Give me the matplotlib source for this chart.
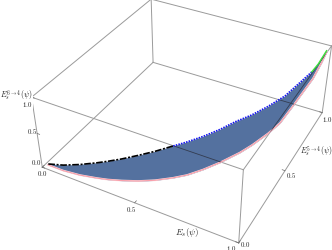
"""Shaded region between two curves inside a 3D box."""

import matplotlib

matplotlib.use("Agg")
import matplotlib.pyplot as plt
import numpy as np
from matplotlib.path import Path
from matplotlib.transforms import IdentityTransform
from mpl_toolkits.mplot3d import proj3d
from mpl_toolkits.mplot3d.art3d import Poly3DCollection

plt.rcParams["mathtext.fontset"] = "cm"

# Upper edge of the region (black, then blue, then green)
upper_x = [0.018, 0.090, 0.164, 0.234, 0.280, 0.335, 0.398, 0.462, 0.529, 0.578,
           0.636, 0.693, 0.741, 0.798, 0.850, 0.901, 0.942, 0.967, 0.979, 0.988]
upper_y = [0.023, 0.042, 0.071, 0.104, 0.128, 0.159, 0.199, 0.242, 0.293, 0.330,
           0.379, 0.435, 0.491, 0.547, 0.610, 0.684, 0.780, 0.839, 0.888, 0.968]
# Lower edge of the region (pink)
lower_x = [0.019, 0.104, 0.193, 0.275, 0.328, 0.390, 0.462, 0.533, 0.604, 0.656, 0.711,
           0.767, 0.829, 0.864, 0.907, 0.936, 0.956, 0.971, 0.986, 0.991, 0.991]
lower_y = [0.019, 0.019, 0.027, 0.041, 0.052, 0.069, 0.092, 0.121, 0.158, 0.190, 0.236,
           0.291, 0.362, 0.412, 0.486, 0.550, 0.647, 0.728, 0.808, 0.902, 0.962]

tick_values = [0.0, 0.5, 1.0]
tick_labels = ["$0.0$", "$0.5$", "$1.0$"]

EDGE = "#9a9a9a"
FILL = "#54719f"

fig = plt.figure(figsize=(3.32, 2.51), dpi=100)
ax = fig.add_axes([0.0981, -0.0491, 0.9197, 1.2165], projection="3d")
ax.computed_zorder = False
ax.set_xlim(0, 1, view_margin=0)
ax.set_ylim(0, 1, view_margin=0)
ax.set_zlim(0, 1, view_margin=0)
ax.autoscale(False)
ax.view_init(elev=36.148, azim=-62.232, roll=-0.28)
ax.set_proj_type("persp", focal_length=0.439)
ax.set_box_aspect((1, 1.017, 0.398))
ax.set_axis_off()

# Region between the curves
region_x = np.r_[upper_x, lower_x[::-1]]
region_y = np.r_[upper_y, lower_y[::-1]]
region_z = region_y
verts = list(zip(region_x, region_y, region_z))
ax.add_collection3d(Poly3DCollection([verts], facecolor=FILL, edgecolor=FILL, linewidth=0.2, zorder=2),
                    autolim=False)

# Box edges, with a darker copy where they cross the region
edges = [((0, 0, 0), (1, 0, 0)), ((1, 0, 0), (1, 1, 0)), ((1, 1, 0), (0, 1, 0)), ((0, 1, 0), (0, 0, 0)),
         ((0, 0, 1), (1, 0, 1)), ((1, 0, 1), (1, 1, 1)), ((1, 1, 1), (0, 1, 1)), ((0, 1, 1), (0, 0, 1)),
         ((0, 0, 0), (0, 0, 1)), ((1, 0, 0), (1, 0, 1)), ((1, 1, 0), (1, 1, 1)), ((0, 1, 0), (0, 1, 1))]
ax.apply_aspect()
sx, sy, _ = proj3d.proj_transform(region_x, region_y, region_z, ax.get_proj())
clip = Path(ax.transData.transform(np.c_[sx, sy]))
for a, b in edges:
    ax.plot(*zip(a, b), color=EDGE, lw=0.7, zorder=1)
    dark, = ax.plot(*zip(a, b), color="#333c50", lw=0.6, zorder=3)
    dark.set_clip_path(clip, IdentityTransform())

# Ticks
for t in tick_values:
    ax.plot([t, t], [0, 0.014], [0, 0], color="#666666", lw=0.5, zorder=1)
    ax.plot([1, 0.986], [t, t], [0, 0], color="#666666", lw=0.5, zorder=1)
    ax.plot([0, 0.014], [0, 0], [t, t], color="#666666", lw=0.5, zorder=1)

# Curves
ax.plot(lower_x, lower_y, lower_y, color="#fcdde0", lw=1.3, zorder=2.5)
ax.plot(lower_x, lower_y, lower_y, color="#f8929f", lw=0.6, zorder=2.6)
ax.plot(upper_x[:9], upper_y[:9], upper_y[:9], color="black", lw=1.2, zorder=4,
        dashes=(4, 1, 1.2, 1))
ax.plot(upper_x[8:18], upper_y[8:18], upper_y[8:18], color="#1212f0", lw=1.2, zorder=4,
        dashes=(0.9, 0.7))
ax.plot(upper_x[17:], upper_y[17:], upper_y[17:], color="#3ce03c", lw=1.0, zorder=4)

# Tick labels
x_label_pos = [(0.020, -0.027, 0), (0.503, -0.035, 0), (0.982, -0.035, 0)]
y_label_pos = [(1.023, 0.011, 0), (1.035, 0.485, 0), (1.037, 0.968, 0)]
z_label_pos = [(-0.032, 0, 0.061), (-0.028, 0, 0.509), (-0.031, 0, 0.895)]
for pos_list in (x_label_pos, y_label_pos, z_label_pos):
    for pos, label in zip(pos_list, tick_labels):
        ax.text(*pos, label, fontsize=5, ha="center", va="center", color="#222222")

# Axis labels
ax.text(0.784, -0.045, 0, r"$E_s(\psi)$", fontsize=6.5, ha="center", va="center", color="#222222")
ax.text(1.077, 0.698, 0, r"$E_s^{5\to4}(\psi)$", fontsize=5.6, ha="center", va="center", color="#222222")
ax.text(-0.088, 0, 0.955, r"$E_s^{6\to4}(\psi)$", fontsize=5.6, ha="center", va="center", color="#222222")

fig.savefig("out.png", dpi=100)
